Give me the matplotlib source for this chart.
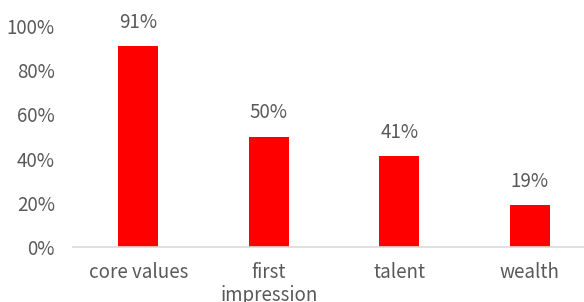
import numpy as np
import matplotlib.pyplot as plt

plt.rcParams['font.family'] = ['Noto Sans CJK SC', 'DejaVu Sans']

# data
categories = ['core values', 'first\nimpression', 'talent', 'wealth']
shares = [0.91, 0.50, 0.41, 0.19]
y_ticks = [0, 0.2, 0.4, 0.6, 0.8, 1.0]

text_color = '#595959'

fig = plt.figure(figsize=(5.84, 3.02), dpi=100)
ax = fig.add_axes([73 / 584, 55 / 302, 522 / 584, 221 / 302])

x = np.arange(len(categories))
bars = ax.bar(x, shares, width=0.31, color='#FF0000')

# value labels above bars
for xi, v in zip(x, shares):
    ax.annotate('{:.0%}'.format(v), (xi, v), xytext=(0, 17), textcoords='offset points',
                ha='center', va='center', fontsize=13.5, color=text_color)

ax.set_xlim(-0.5, 3.5)
ax.set_ylim(0, 1.0)
ax.set_yticks(y_ticks)
ax.set_yticklabels(['{:.0%}'.format(t) for t in y_ticks])
ax.set_xticks(x)
ax.set_xticklabels(categories, linespacing=1.1)

ax.tick_params(axis='both', length=0, labelsize=13.5, labelcolor=text_color)
ax.tick_params(axis='x', pad=11)
ax.tick_params(axis='y', pad=13)

for side in ['top', 'right', 'left']:
    ax.spines[side].set_visible(False)
ax.spines['bottom'].set_color('#D9D9D9')
ax.spines['bottom'].set_linewidth(1.2)

fig.savefig('out.png', dpi=100)
